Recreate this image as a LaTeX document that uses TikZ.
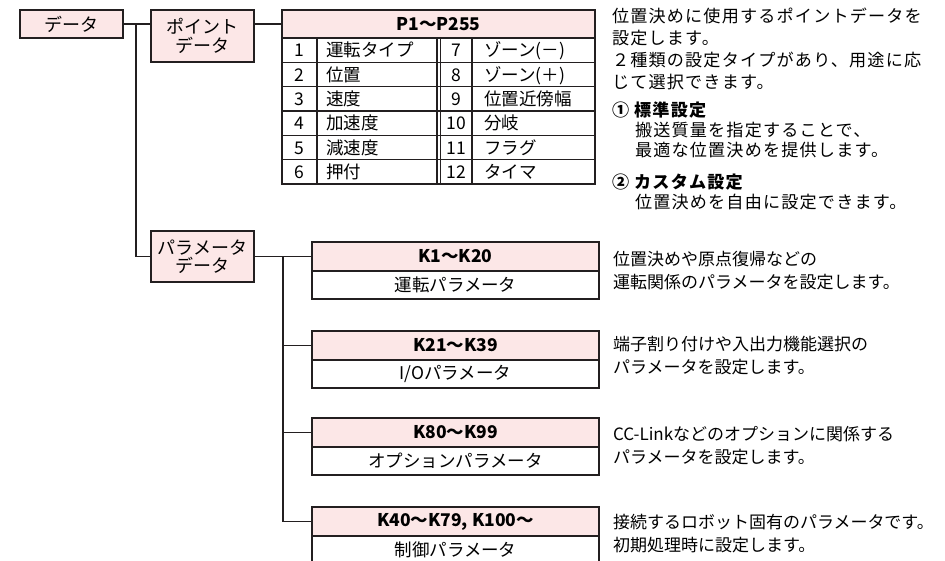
\documentclass[tikz,border=0pt]{standalone}
\usepackage{fontspec}
\newfontfamily\jp{Noto Sans CJK JP}
\newfontfamily\jpw{Noto Sans CJK JP}[LetterSpace=7]
\definecolor{pk}{RGB}{252,231,231}
\definecolor{ln}{RGB}{35,31,32}
\tikzset{
  bx/.style={draw=ln, fill=pk, line width=1.4pt, inner sep=0pt, outer sep=0pt, align=center,
     font=\jp\fontsize{18}{20}\selectfont},
  hd/.style={bx, minimum width=287pt, minimum height=29pt, font=\jp\bfseries\fontsize{17.5}{20}\selectfont},
  bd/.style={bx, fill=white, minimum width=287pt, minimum height=28pt, font=\jp\fontsize{17.5}{20}\selectfont},
  cell/.style={inner sep=0pt, outer sep=0pt, text height=15pt, text depth=2pt, font=\jp\fontsize{17.5}{20}\selectfont},
  dsc/.style={inner sep=0pt, outer sep=0pt, anchor=base west, font=\jpw\fontsize{17.1}{20}\selectfont},
  dsb/.style={dsc, font=\jpw\bfseries\fontsize{17.1}{20}\selectfont},
  pdsc/.style={inner sep=0pt, outer sep=0pt, anchor=base west, font=\jp\fontsize{17}{20}\selectfont},
  conn/.style={draw=ln, line width=1.4pt},
}
\begin{document}
\begin{tikzpicture}[x=1pt,y=-1pt]
\useasboundingbox (0,0) rectangle (945,560);
% left boxes
\node[bx, minimum width=103pt, minimum height=28pt] (data) at (71.5,24) {データ};
\node[bx, minimum width=103pt, minimum height=52pt] (point) at (202.5,36) {ポイント\\[-1.5pt]データ};
\node[bx, minimum width=103pt, minimum height=51pt] (param) at (202.5,256.5) {パラメータ\\[-1.5pt]データ};
% table
\node[bx, minimum width=313pt, minimum height=28pt, font=\jp\bfseries\fontsize{17.5}{20}\selectfont] (thead) at (438.5,24) {P1～P255};
\node[bx, fill=white, minimum width=313pt, minimum height=146pt] (tbody) at (438.5,111) {};
\foreach \i in {1,...,5} {
  \draw[conn] (282,38+24.333*\i) -- (595,38+24.333*\i);
}
\draw[conn] (317,38) -- (317,184);
\draw[conn, line width=1.1pt] (437,38) -- (437,184);
\draw[conn, line width=1.1pt] (440.5,38) -- (440.5,184);
\draw[conn] (472,38) -- (472,184);
\foreach \n/\a/\m/\b [count=\i] in {1/運転タイプ/7/ゾーン(－), 2/位置/8/ゾーン(＋), 3/速度/9/位置近傍幅, 4/加速度/10/分岐, 5/減速度/11/フラグ, 6/押付/12/タイマ} {
  \node[cell] (n\i) at (299.5,50.2+24.333*\i-24.333) {\n};
  \node[cell, anchor=west] (a\i) at (326,50.2+24.333*\i-24.333) {\a};
  \node[cell] (m\i) at (456,50.2+24.333*\i-24.333) {\m};
  \node[cell, anchor=west] (b\i) at (484,50.2+24.333*\i-24.333) {\b};
}
% parameter boxes
\node[hd] (k1h) at (455.5,256.5) {K1～K20};
\node[bd] (k1b) at (455.5,285) {運転パラメータ};
\node[hd] (k2h) at (455.5,345.5) {K21～K39};
\node[bd] (k2b) at (455.5,374) {I/Oパラメータ};
\node[hd] (k3h) at (455.5,432.5) {K80～K99};
\node[bd] (k3b) at (455.5,461) {オプションパラメータ};
\node[hd] (k4h) at (455.5,521.5) {K40～K79, K100～};
\node[bd] (k4b) at (455.5,550) {制御パラメータ};
% connectors
\coordinate (j1) at (136,24);
\coordinate (j2) at (283,256.5);
\draw[conn] (data.east) -- (data.east -| point.west);
\draw[conn] (j1) |- (param.west);
\draw[conn] (point.east |- thead.west) -- (thead.west);
\draw[conn] (param.east) -- (k1h.west);
\draw[conn] (j2) |- (k2h.west);
\draw[conn] (j2) |- (k3h.west);
\draw[conn] (j2) |- (k4h.west);
% top description
\node[dsc] (t1) at (612,22.5) {位置決めに使用するポイントデータを};
\node[dsc] (t2) at (612,44.5) {設定します。};
\node[dsc] (t3) at (612,66.5) {２種類の設定タイプがあり、用途に応};
\node[dsc] (t4) at (612,88.5) {じて選択できます。};
\node[dsb] (t5) at (612,116.5) {① 標準設定};
\node[dsc] (t6) at (635,136) {搬送質量を指定することで、};
\node[dsc] (t7) at (635,156.5) {最適な位置決めを提供します。};
\node[dsb] (t8) at (612,188.5) {② カスタム設定};
\node[dsc] (t9) at (635,208.5) {位置決めを自由に設定できます。};
% parameter descriptions
\node[pdsc] (p1) at (613,265) {位置決めや原点復帰などの};
\node[pdsc] (p2) at (613,288) {運転関係のパラメータを設定します。};
\node[pdsc] (p3) at (613,350.5) {端子割り付けや入出力機能選択の};
\node[pdsc] (p4) at (613,373.5) {パラメータを設定します。};
\node[pdsc] (p5) at (613,440.5) {CC-Linkなどのオプションに関係する};
\node[pdsc] (p6) at (613,463.5) {パラメータを設定します。};
\node[pdsc] (p7) at (613,528.5) {接続するロボット固有のパラメータです。};
\node[pdsc] (p8) at (613,551.5) {初期処理時に設定します。};
\end{tikzpicture}
\end{document}
